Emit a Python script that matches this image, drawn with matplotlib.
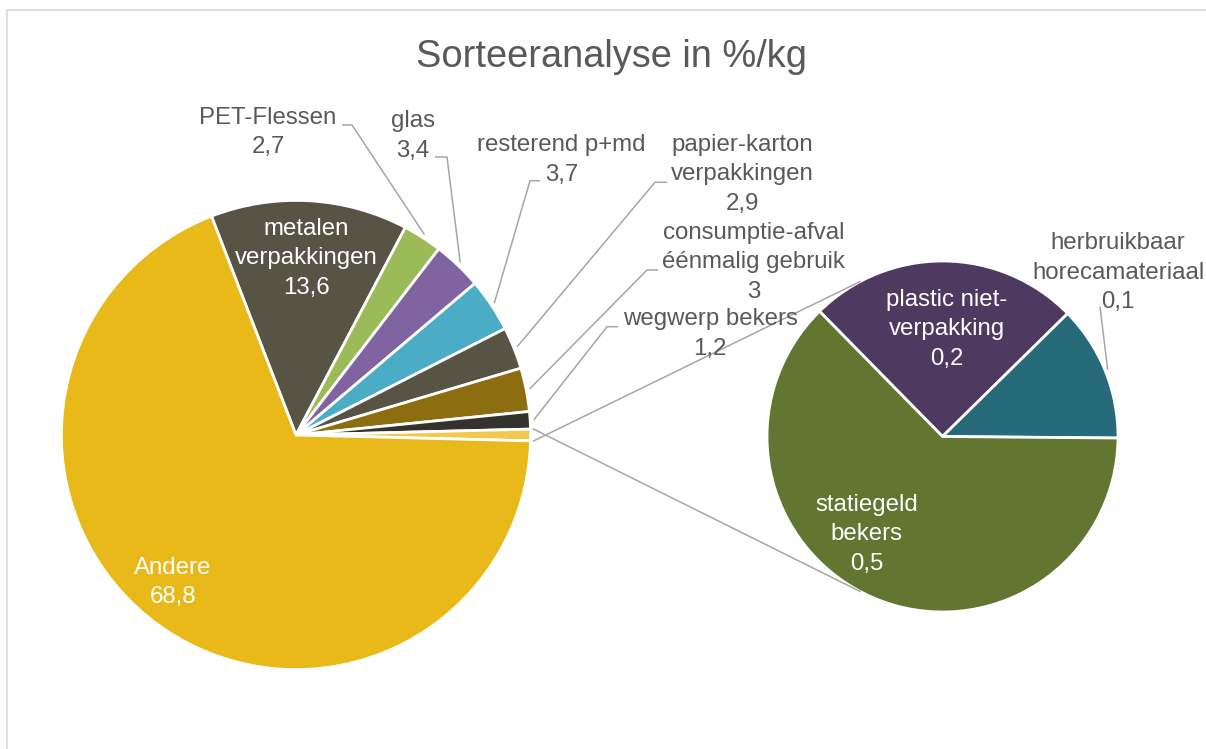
import numpy as np
import matplotlib.pyplot as plt

W, H = 1206, 749

# first pie (the last slice is the "other" part split out in the second pie)
main_labels = ['metalen\nverpakkingen', 'PET-Flessen', 'glas', 'resterend p+md',
               'papier-karton\nverpakkingen', 'consumptie-afval\néénmalig gebruik',
               'wegwerp bekers', 'Andere']
main_values = [13.6, 2.7, 3.4, 3.7, 2.9, 3.0, 1.2, 68.8]
main_numbers = ['13,6', '2,7', '3,4', '3,7', '2,9', '3', '1,2', '68,8']
main_colors = ['#575446', '#9BBB59', '#8064A2', '#4BACC6', '#575446', '#8C6D0F',
               '#33332B', '#E8B918']
other_color = '#F2C94C'

# second pie
sub_labels = ['plastic niet-\nverpakking', 'herbruikbaar\nhorecamateriaal', 'statiegeld\nbekers']
sub_values = [0.2, 0.1, 0.5]
sub_numbers = ['0,2', '0,1', '0,5']
sub_colors = ['#4E3A60', '#276A7A', '#627632']

GREY = '#595959'
LINE = '#A6A6A6'
FS = 17.3
LS = 1.45

# positions (screen pixels, y from top)
main_c, main_r = (296, 435), 234.6
sub_c, sub_r = (942.5, 436.5), 175.5
sub_start = 134.5
sub_join = 118

# label: x centre, last baseline, inside?, leader stub (x_from, x_to, y) or None
main_pos = [(306, 294, True, None),
            (268, 153.3, False, (342, 352, 125)),
            (413, 156.7, False, (435, 447, 157)),
            (561.5, 180.7, False, (540, 530, 180.7)),
            (742, 210, False, (667, 655, 182.3)),
            (753.5, 298, False, (658, 647, 270)),
            (710, 355, False, (618, 607, 326.7)),
            (173, 603.3, True, None)]
sub_pos = [(947, 365, True, None),
           (1118, 308.3, False, (1100, 1100, 306.7)),
           (866.7, 570, True, None)]


def Y(y):
    return H - y


def draw_labels(ax, center, r, wedges, labels, numbers, pos):
    for w, lab, num, p in zip(wedges, labels, numbers, pos):
        x, yb, inside, stub = p
        ax.text(x, Y(yb), lab + '\n' + num, ha='center', va='baseline',
                fontsize=FS, linespacing=LS, color='white' if inside else GREY,
                family='Liberation Sans', zorder=5)
        if stub is not None:
            mid = np.deg2rad((w.theta1 + w.theta2) / 2)
            ex = center[0] + r * 1.015 * np.cos(mid)
            ey = Y(center[1]) + r * 1.015 * np.sin(mid)
            ax.plot([stub[0], stub[1], ex], [Y(stub[2]), Y(stub[2]), ey],
                    color=LINE, lw=1.1, solid_capstyle='butt', zorder=1)


def main():
    fig = plt.figure(figsize=(W / 100, H / 100), dpi=100)
    ax = fig.add_axes([0, 0, 1, 1])

    other = sum(sub_values)
    vals = main_values[:-1] + [other] + main_values[-1:]
    cols = main_colors[:-1] + [other_color] + main_colors[-1:]
    total = sum(vals)
    start = (sum(main_values[:-1]) + other / 2) / total * 360

    wedges, _ = ax.pie(vals, colors=cols, startangle=start, counterclock=False,
                       radius=main_r, center=(main_c[0], Y(main_c[1])),
                       wedgeprops=dict(edgecolor='white', linewidth=2))
    main_w = wedges[:-2] + wedges[-1:]
    other_w = wedges[-2]

    sub_w, _ = ax.pie(sub_values, colors=sub_colors, startangle=sub_start,
                      counterclock=False, radius=sub_r,
                      center=(sub_c[0], Y(sub_c[1])),
                      wedgeprops=dict(edgecolor='white', linewidth=2))

    draw_labels(ax, main_c, main_r, main_w, main_labels, main_numbers, main_pos)
    draw_labels(ax, sub_c, sub_r, sub_w, sub_labels, sub_numbers, sub_pos)

    # connector lines between both pies
    for a, b in [(other_w.theta1, sub_join), (other_w.theta2, -sub_join)]:
        a = np.deg2rad(a)
        b = np.deg2rad(b)
        x1 = main_c[0] + (main_r + 3) * np.cos(a)
        y1 = Y(main_c[1]) + (main_r + 3) * np.sin(a)
        x2 = sub_c[0] + sub_r * np.cos(b)
        y2 = Y(sub_c[1]) + sub_r * np.sin(b)
        ax.plot([x1, x2], [y1, y2], color=LINE, lw=1.1, zorder=1)

    ax.text(611, Y(66.7), 'Sorteeranalyse in %/kg', ha='center', va='baseline',
            fontsize=27.4, color=GREY, family='Liberation Sans')

    # chart area border
    ax.plot([7, 7, W + 5], [-5, Y(10), Y(10)], color='#D9D9D9', lw=1.2)

    ax.set_xlim(0, W)
    ax.set_ylim(0, H)
    ax.set_aspect('equal')
    ax.axis('off')
    fig.savefig('out.png', dpi=100)


main()
